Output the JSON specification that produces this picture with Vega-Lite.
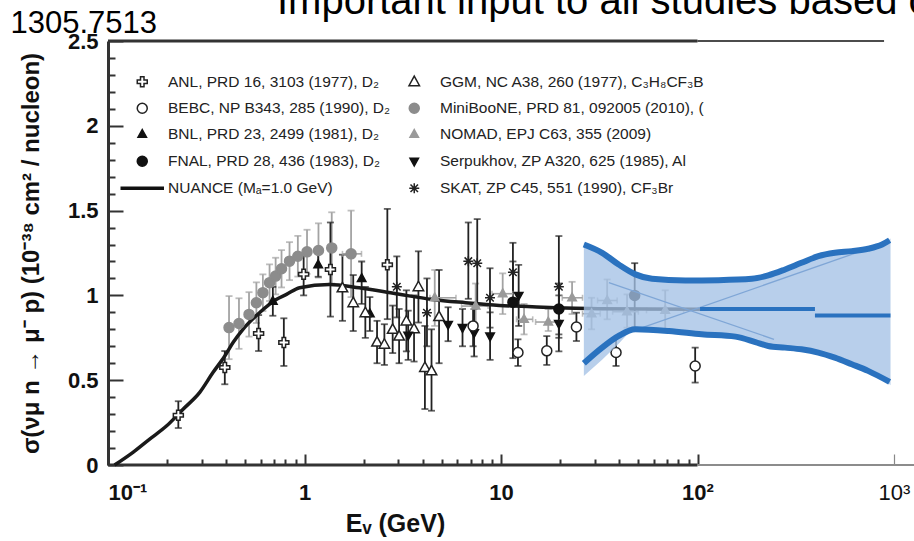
{
  "$schema": "https://vega.github.io/schema/vega-lite/v6.json",
  "width": 786,
  "height": 424,
  "autosize": {"type": "none"},
  "padding": {"left": 108, "top": 41, "right": 20, "bottom": 76},
  "background": "white",
  "config": {"view": {"stroke": null}, "font": "Liberation Sans"},
  "title": {
    "text": "Important input to all studies based on",
    "anchor": "start",
    "frame": "group",
    "dx": 169,
    "offset": -15,
    "font": "Liberation Sans",
    "fontSize": 40,
    "fontWeight": "normal",
    "color": "#000"
  },
  "resolve": {"axis": {"x": "independent", "y": "independent"}},
  "datasets": {
    "pts": [
      {"exp": "ANL", "E": 0.228, "s": 0.294, "lo": 0.218, "hi": 0.376},
      {"exp": "ANL", "E": 0.393, "s": 0.575, "lo": 0.476, "hi": 0.672},
      {"exp": "ANL", "E": 0.584, "s": 0.775, "lo": 0.672, "hi": 0.884},
      {"exp": "ANL", "E": 0.785, "s": 0.722, "lo": 0.584, "hi": 0.865},
      {"exp": "ANL", "E": 0.99, "s": 1.124, "lo": 1.0, "hi": 1.235},
      {"exp": "ANL", "E": 1.355, "s": 1.153, "lo": 0.875, "hi": 1.43},
      {"exp": "ANL", "E": 2.64, "s": 1.18, "lo": 0.86, "hi": 1.51},
      {"exp": "MiniBooNE", "E": 0.413, "s": 0.81, "lo": 0.624, "hi": 0.996},
      {"exp": "MiniBooNE", "E": 0.464, "s": 0.834, "lo": 0.685, "hi": 0.983},
      {"exp": "MiniBooNE", "E": 0.522, "s": 0.888, "lo": 0.757, "hi": 1.019},
      {"exp": "MiniBooNE", "E": 0.569, "s": 0.957, "lo": 0.837, "hi": 1.077},
      {"exp": "MiniBooNE", "E": 0.614, "s": 1.016, "lo": 0.908, "hi": 1.124},
      {"exp": "MiniBooNE", "E": 0.664, "s": 1.075, "lo": 0.967, "hi": 1.183},
      {"exp": "MiniBooNE", "E": 0.713, "s": 1.114, "lo": 1.006, "hi": 1.222},
      {"exp": "MiniBooNE", "E": 0.764, "s": 1.157, "lo": 1.047, "hi": 1.267},
      {"exp": "MiniBooNE", "E": 0.839, "s": 1.202, "lo": 1.09, "hi": 1.314},
      {"exp": "MiniBooNE", "E": 0.925, "s": 1.231, "lo": 1.111, "hi": 1.351},
      {"exp": "MiniBooNE", "E": 1.03, "s": 1.257, "lo": 1.127, "hi": 1.387},
      {"exp": "MiniBooNE", "E": 1.178, "s": 1.265, "lo": 1.105, "hi": 1.425},
      {"exp": "MiniBooNE", "E": 1.376, "s": 1.28, "lo": 1.07, "hi": 1.49},
      {"exp": "MiniBooNE", "E": 1.726, "s": 1.245, "lo": 0.99, "hi": 1.5, "xlo": 1.56, "xhi": 1.95},
      {"exp": "BNL", "E": 0.69, "s": 0.966, "lo": 0.88, "hi": 1.05},
      {"exp": "BNL", "E": 1.174, "s": 1.18, "lo": 1.11, "hi": 1.25},
      {"exp": "BNL", "E": 1.954, "s": 1.1, "lo": 0.95, "hi": 1.2},
      {"exp": "BNL", "E": 2.15, "s": 0.892, "lo": 0.79, "hi": 0.99},
      {"exp": "GGM", "E": 1.56, "s": 1.045, "lo": 0.85, "hi": 1.24},
      {"exp": "GGM", "E": 1.77, "s": 0.957, "lo": 0.79, "hi": 1.12},
      {"exp": "GGM", "E": 2.04, "s": 0.898, "lo": 0.75, "hi": 1.05},
      {"exp": "GGM", "E": 2.34, "s": 0.725, "lo": 0.6, "hi": 0.85},
      {"exp": "GGM", "E": 2.55, "s": 0.712, "lo": 0.59, "hi": 0.83},
      {"exp": "GGM", "E": 2.81, "s": 0.8, "lo": 0.66, "hi": 0.94},
      {"exp": "GGM", "E": 3.03, "s": 0.76, "lo": 0.6, "hi": 0.92},
      {"exp": "GGM", "E": 3.3, "s": 0.849, "lo": 0.67, "hi": 1.03},
      {"exp": "GGM", "E": 3.61, "s": 0.804, "lo": 0.61, "hi": 1.0},
      {"exp": "GGM", "E": 3.8, "s": 1.051, "lo": 0.84, "hi": 1.26},
      {"exp": "GGM", "E": 4.1, "s": 0.575, "lo": 0.33, "hi": 0.82},
      {"exp": "GGM", "E": 4.43, "s": 0.555, "lo": 0.32, "hi": 0.8},
      {"exp": "GGM", "E": 4.84, "s": 0.875, "lo": 0.6, "hi": 1.15},
      {"exp": "SKAT", "E": 2.95, "s": 1.051, "lo": 0.87, "hi": 1.23},
      {"exp": "SKAT", "E": 4.2, "s": 0.898, "lo": 0.7, "hi": 1.1},
      {"exp": "SKAT", "E": 6.82, "s": 1.202, "lo": 0.98, "hi": 1.43},
      {"exp": "SKAT", "E": 7.57, "s": 1.19, "lo": 0.95, "hi": 1.45},
      {"exp": "SKAT", "E": 8.79, "s": 0.986, "lo": 0.81, "hi": 1.16},
      {"exp": "SKAT", "E": 11.5, "s": 1.137, "lo": 0.97, "hi": 1.31},
      {"exp": "SKAT", "E": 19.7, "s": 1.051, "lo": 0.75, "hi": 1.35},
      {"exp": "Serpukhov", "E": 3.37, "s": 0.765, "lo": 0.62, "hi": 0.91},
      {"exp": "Serpukhov", "E": 5.38, "s": 0.829, "lo": 0.73, "hi": 0.93},
      {"exp": "Serpukhov", "E": 6.37, "s": 0.81, "lo": 0.7, "hi": 0.92},
      {"exp": "Serpukhov", "E": 7.3, "s": 0.78, "lo": 0.64, "hi": 0.92},
      {"exp": "Serpukhov", "E": 8.8, "s": 0.76, "lo": 0.62, "hi": 0.9},
      {"exp": "Serpukhov", "E": 12.3, "s": 1.0, "lo": 0.82, "hi": 1.18},
      {"exp": "Serpukhov", "E": 19.7, "s": 0.834, "lo": 0.67, "hi": 1.0},
      {"exp": "FNAL", "E": 11.5, "s": 0.96, "lo": 0.63, "hi": 1.2},
      {"exp": "FNAL", "E": 19.7, "s": 0.92, "lo": 0.77, "hi": 1.07},
      {"exp": "FNAL", "E": 47.9, "s": 1.0, "lo": 0.81, "hi": 1.19},
      {"exp": "BEBC", "E": 7.21, "s": 0.82, "lo": 0.7, "hi": 0.94},
      {"exp": "BEBC", "E": 12.2, "s": 0.663, "lo": 0.584, "hi": 0.741},
      {"exp": "BEBC", "E": 17.1, "s": 0.673, "lo": 0.59, "hi": 0.76},
      {"exp": "BEBC", "E": 24.2, "s": 0.814, "lo": 0.731, "hi": 0.898},
      {"exp": "BEBC", "E": 38.5, "s": 0.663, "lo": 0.584, "hi": 0.751},
      {"exp": "BEBC", "E": 97.3, "s": 0.584, "lo": 0.486, "hi": 0.692},
      {"exp": "NOMAD", "E": 4.6, "s": 0.986, "lo": 0.82, "hi": 1.15, "xlo": 4.35, "xhi": 5.9},
      {"exp": "NOMAD", "E": 7.43, "s": 0.937, "lo": 0.8, "hi": 1.07, "xlo": 6.3, "xhi": 8.6},
      {"exp": "NOMAD", "E": 10.2, "s": 1.01, "lo": 0.89, "hi": 1.13, "xlo": 9.0, "xhi": 11.5},
      {"exp": "NOMAD", "E": 13.1, "s": 0.859, "lo": 0.77, "hi": 0.95, "xlo": 12.0, "xhi": 14.5},
      {"exp": "NOMAD", "E": 17.4, "s": 0.843, "lo": 0.79, "hi": 0.92, "xlo": 15.0, "xhi": 20.0},
      {"exp": "NOMAD", "E": 23.0, "s": 0.986, "lo": 0.89, "hi": 1.08, "xlo": 20.5, "xhi": 26.0},
      {"exp": "NOMAD", "E": 28.9, "s": 0.892, "lo": 0.8, "hi": 0.986, "xlo": 26.0, "xhi": 32.0},
      {"exp": "NOMAD", "E": 34.7, "s": 0.97, "lo": 0.859, "hi": 1.094, "xlo": 31.0, "xhi": 39.0},
      {"exp": "NOMAD", "E": 43.8, "s": 0.904, "lo": 0.81, "hi": 1.006, "xlo": 37.0, "xhi": 50.0},
      {"exp": "NOMAD", "E": 68.5, "s": 0.912, "lo": 0.8, "hi": 1.03, "xlo": 55.0, "xhi": 85.0}
    ],
    "nuance": [
      {"E": 0.108, "s": 0.0}, {"E": 0.134, "s": 0.075}, {"E": 0.163, "s": 0.153},
      {"E": 0.199, "s": 0.231}, {"E": 0.241, "s": 0.329}, {"E": 0.293, "s": 0.428},
      {"E": 0.342, "s": 0.545}, {"E": 0.393, "s": 0.643}, {"E": 0.433, "s": 0.722},
      {"E": 0.486, "s": 0.8}, {"E": 0.59, "s": 0.898}, {"E": 0.718, "s": 0.976},
      {"E": 0.81, "s": 1.006}, {"E": 0.944, "s": 1.045}, {"E": 1.34, "s": 1.065},
      {"E": 1.9, "s": 1.045}, {"E": 2.92, "s": 1.01}, {"E": 4.47, "s": 0.976},
      {"E": 6.6, "s": 0.957}, {"E": 9.8, "s": 0.941}, {"E": 14.4, "s": 0.933},
      {"E": 21.2, "s": 0.925}, {"E": 31.3, "s": 0.922}, {"E": 103, "s": 0.918}
    ],
    "bandfill": [
      {"E": 26.4, "hi": 1.31, "lo": 0.525}, {"E": 32.7, "hi": 1.251, "lo": 0.62},
      {"E": 39.7, "hi": 1.182, "lo": 0.715}, {"E": 46.4, "hi": 1.13, "lo": 0.8},
      {"E": 58.7, "hi": 1.098, "lo": 0.795}, {"E": 71.5, "hi": 1.092, "lo": 0.79},
      {"E": 86.7, "hi": 1.088, "lo": 0.785}, {"E": 105, "hi": 1.089, "lo": 0.771},
      {"E": 128, "hi": 1.09, "lo": 0.765}, {"E": 156, "hi": 1.094, "lo": 0.757},
      {"E": 189, "hi": 1.098, "lo": 0.74}, {"E": 229, "hi": 1.118, "lo": 0.705},
      {"E": 279, "hi": 1.153, "lo": 0.692}, {"E": 338, "hi": 1.192, "lo": 0.682},
      {"E": 412, "hi": 1.231, "lo": 0.663}, {"E": 500, "hi": 1.251, "lo": 0.633},
      {"E": 610, "hi": 1.261, "lo": 0.594}, {"E": 738, "hi": 1.275, "lo": 0.555},
      {"E": 870, "hi": 1.3, "lo": 0.52}, {"E": 960, "hi": 1.335, "lo": 0.47}
    ],
    "bandedge": [
      {"edge": "upper", "E": 26.4, "s": 1.3}, {"edge": "upper", "E": 32.7, "s": 1.251},
      {"edge": "upper", "E": 39.7, "s": 1.182}, {"edge": "upper", "E": 48.3, "s": 1.124},
      {"edge": "upper", "E": 58.7, "s": 1.098}, {"edge": "upper", "E": 86.7, "s": 1.088},
      {"edge": "upper", "E": 128, "s": 1.09}, {"edge": "upper", "E": 189, "s": 1.098},
      {"edge": "upper", "E": 229, "s": 1.118}, {"edge": "upper", "E": 279, "s": 1.153},
      {"edge": "upper", "E": 338, "s": 1.192}, {"edge": "upper", "E": 412, "s": 1.231},
      {"edge": "upper", "E": 500, "s": 1.251}, {"edge": "upper", "E": 610, "s": 1.261},
      {"edge": "upper", "E": 738, "s": 1.275}, {"edge": "upper", "E": 870, "s": 1.3},
      {"edge": "upper", "E": 950, "s": 1.325},
      {"edge": "lower", "E": 26.4, "s": 0.6}, {"edge": "lower", "E": 32.7, "s": 0.692},
      {"edge": "lower", "E": 39.7, "s": 0.761}, {"edge": "lower", "E": 48.3, "s": 0.8},
      {"edge": "lower", "E": 71.5, "s": 0.79}, {"edge": "lower", "E": 105, "s": 0.771},
      {"edge": "lower", "E": 156, "s": 0.757}, {"edge": "lower", "E": 197, "s": 0.725},
      {"edge": "lower", "E": 229, "s": 0.702}, {"edge": "lower", "E": 279, "s": 0.692},
      {"edge": "lower", "E": 338, "s": 0.682}, {"edge": "lower", "E": 412, "s": 0.663},
      {"edge": "lower", "E": 500, "s": 0.633}, {"edge": "lower", "E": 610, "s": 0.594},
      {"edge": "lower", "E": 738, "s": 0.555}, {"edge": "lower", "E": 950, "s": 0.49}
    ],
    "central": [
      {"seg": "a", "E": 103, "s": 0.92}, {"seg": "a", "E": 396, "s": 0.92},
      {"seg": "b", "E": 396, "s": 0.882}, {"seg": "b", "E": 960, "s": 0.882}
    ],
    "diag": [
      {"k": "a", "E": 39.7, "s": 0.761}, {"k": "a", "E": 950, "s": 1.32},
      {"k": "b", "E": 35.4, "s": 1.075}, {"k": "b", "E": 245, "s": 0.741}
    ]
  },
  "layer": [
    {
      "data": {"values": [{"a": 0.1, "b": 100, "y": 0}, {"a": 0.1, "b": 100, "y": 2.5}]},
      "mark": {"type": "rule", "strokeWidth": 3, "color": "#333"},
      "encoding": {
        "x": {
          "field": "a", "type": "quantitative",
          "scale": {"type": "log", "domain": [0.1, 1000], "nice": false},
          "axis": {
            "orient": "bottom",
            "values": [0.1, 1, 10, 100, 1000],
            "labelExpr": "datum.value==0.1?'10⁻¹':datum.value==1?'1':datum.value==10?'10':datum.value==100?'10²':'10³'",
            "domain": false,
            "grid": false,
            "tickSize": -11,
            "tickColor": {"condition": {"test": "datum.value==1000", "value": "#888"}, "value": "#333"},
            "tickWidth": {"condition": {"test": "datum.value==1000", "value": 1.2}, "value": 2},
            "labelFont": "Liberation Sans",
            "labelFontSize": 22,
            "labelFontWeight": {"condition": {"test": "datum.value==1000", "value": "normal"}, "value": "bold"},
            "labelAlign": {"condition": {"test": "datum.value==0.1", "value": "left"}, "value": "center"},
            "labelColor": "#111",
            "labelPadding": 28,
            "labelOverlap": false,
            "labelFlush": false,
            "labelBound": false,
            "title": "Eᵥ (GeV)",
            "titleFont": "Liberation Sans",
            "titleFontSize": 25,
            "titleFontWeight": "bold",
            "titleColor": "#111",
            "titleX": 287,
            "titlePadding": 8
          }
        },
        "x2": {"field": "b"},
        "y": {
          "field": "y", "type": "quantitative",
          "scale": {"domain": [0, 2.5], "nice": false, "zero": false},
          "axis": {
            "orient": "left",
            "values": [0, 0.5, 1, 1.5, 2, 2.5],
            "format": "~g",
            "domainColor": "#333",
            "domainWidth": 3,
            "grid": false,
            "tickSize": -15,
            "tickColor": "#333",
            "tickWidth": 2,
            "labelFont": "Liberation Sans",
            "labelFontSize": 22,
            "labelFontWeight": "bold",
            "labelColor": "#111",
            "labelPadding": 25,
            "labelOverlap": false,
            "labelFlush": false,
            "labelBound": false,
            "title": "σ(νμ n → μ⁻ p) (10⁻³⁸ cm² / nucleon)",
            "titleFont": "Liberation Sans",
            "titleFontSize": 24,
            "titleFontWeight": "bold",
            "titleColor": "#111",
            "titlePadding": 24
          }
        }
      }
    },
    {
      "data": {"values": [{"a": 100, "b": 890, "y": 2.5}]},
      "mark": {"type": "rule", "strokeWidth": 1.5, "color": "#111"},
      "encoding": {
        "x": {
          "field": "a", "type": "quantitative",
          "scale": {"type": "log", "domain": [0.1, 1000], "nice": false},
          "axis": {
            "orient": "top", "domain": false, "ticks": false, "labels": false, "grid": false,
            "title": "1305.7513", "titleX": -98, "titleY": -9, "titleAlign": "left", "titleAnchor": null,
            "titleBaseline": "alphabetic", "titleFont": "Liberation Sans", "titleFontSize": 31,
            "titleFontWeight": "normal", "titleColor": "#000", "titleAngle": 0
          }
        },
        "x2": {"field": "b"},
        "y": {"field": "y", "type": "quantitative", "scale": {"domain": [0, 2.5], "nice": false, "zero": false}, "axis": null}
      }
    },
    {
      "data": {"values": [{"a": 100, "b": 1300, "y": 0}]},
      "mark": {"type": "rule", "strokeWidth": 2, "color": "#8c8c8c"},
      "encoding": {
        "x": {
          "field": "a", "type": "quantitative",
          "scale": {"type": "log", "domain": [0.1, 1000], "nice": false},
          "axis": {
            "orient": "bottom",
            "values": [0.2, 0.3, 0.4, 0.5, 0.6, 0.7, 0.8, 0.9, 2, 3, 4, 5, 6, 7, 8, 9, 20, 30, 40, 50, 60, 70, 80, 90],
            "labels": false, "domain": false, "grid": false, "title": null,
            "tickSize": -6, "tickColor": "#333", "tickWidth": 2
          }
        },
        "x2": {"field": "b"},
        "y": {
          "field": "y", "type": "quantitative",
          "scale": {"domain": [0, 2.5], "nice": false, "zero": false},
          "axis": {
            "orient": "left",
            "values": [0.1, 0.2, 0.3, 0.4, 0.6, 0.7, 0.8, 0.9, 1.1, 1.2, 1.3, 1.4, 1.6, 1.7, 1.8, 1.9, 2.1, 2.2, 2.3, 2.4],
            "labels": false, "domain": false, "grid": false, "title": null,
            "tickSize": -7, "tickColor": "#333", "tickWidth": 2
          }
        }
      }
    },
    {
      "data": {"name": "pts"},
      "transform": [{"filter": "datum.exp=='MiniBooNE'||datum.exp=='NOMAD'"}],
      "mark": {"type": "errorbar", "ticks": {"size": 7}, "thickness": 1.8, "color": "#a3a3a3"},
      "encoding": {
        "x": {"field": "E", "type": "quantitative", "scale": {"type": "log", "domain": [0.1, 1000], "nice": false}, "axis": null},
        "y": {"field": "lo", "type": "quantitative", "scale": {"domain": [0, 2.5], "nice": false, "zero": false}, "axis": null},
        "y2": {"field": "hi"}
      }
    },
    {
      "data": {"name": "pts"},
      "transform": [{"filter": "datum.exp!='MiniBooNE'&&datum.exp!='NOMAD'"}],
      "mark": {"type": "errorbar", "ticks": {"size": 7}, "thickness": 1.8, "color": "#222"},
      "encoding": {
        "x": {"field": "E", "type": "quantitative", "scale": {"type": "log", "domain": [0.1, 1000], "nice": false}, "axis": null},
        "y": {"field": "lo", "type": "quantitative", "scale": {"domain": [0, 2.5], "nice": false, "zero": false}, "axis": null},
        "y2": {"field": "hi"}
      }
    },
    {
      "data": {"name": "pts"},
      "transform": [{"filter": "isValid(datum.xlo)"}],
      "mark": {"type": "errorbar", "ticks": {"size": 6}, "thickness": 1.6, "color": "#a3a3a3"},
      "encoding": {
        "x": {"field": "xlo", "type": "quantitative", "scale": {"type": "log", "domain": [0.1, 1000], "nice": false}, "axis": null},
        "x2": {"field": "xhi"},
        "y": {"field": "s", "type": "quantitative", "scale": {"domain": [0, 2.5], "nice": false, "zero": false}, "axis": null}
      }
    },
    {
      "data": {"name": "nuance"},
      "mark": {"type": "line", "interpolate": "monotone", "strokeWidth": 3.5, "color": "#1a1a1a"},
      "encoding": {
        "x": {"field": "E", "type": "quantitative", "scale": {"type": "log", "domain": [0.1, 1000], "nice": false}, "axis": null},
        "y": {"field": "s", "type": "quantitative", "scale": {"domain": [0, 2.5], "nice": false, "zero": false}, "axis": null}
      }
    },
    {
      "data": {"name": "pts"},
      "mark": {"type": "point", "filled": true, "size": 100, "strokeWidth": 1.5, "opacity": 1},
      "encoding": {
        "x": {"field": "E", "type": "quantitative", "scale": {"type": "log", "domain": [0.1, 1000], "nice": false}, "axis": null},
        "y": {"field": "s", "type": "quantitative", "scale": {"domain": [0, 2.5], "nice": false, "zero": false}, "axis": null},
        "shape": {
          "field": "exp", "type": "nominal",
          "scale": {
            "domain": ["ANL", "BEBC", "BNL", "FNAL", "NUANCE", "GGM", "MiniBooNE", "NOMAD", "Serpukhov", "SKAT"],
            "range": [
              "M -0.35,-1 L 0.35,-1 L 0.35,-0.35 L 1,-0.35 L 1,0.35 L 0.35,0.35 L 0.35,1 L -0.35,1 L -0.35,0.35 L -1,0.35 L -1,-0.35 L -0.35,-0.35 Z",
              "circle",
              "M 0,-0.95 L 0.85,0.6 L -0.85,0.6 Z",
              "circle",
              "M -4.2,-0.22 L 4.2,-0.22 L 4.2,0.22 L -4.2,0.22 Z",
              "M 0,-1.1 L 1.05,0.8 L -1.05,0.8 Z",
              "circle",
              "M 0,-0.95 L 0.85,0.6 L -0.85,0.6 Z",
              "M 0,0.95 L 0.85,-0.6 L -0.85,-0.6 Z",
              "M -1,0 L 1,0 M 0,-1 L 0,1 M -0.75,-0.75 L 0.75,0.75 M -0.75,0.75 L 0.75,-0.75"
            ]
          },
          "legend": {
            "title": null, "orient": "none", "legendX": 26.5, "legendY": 32.5, "columns": 2, "direction": "vertical",
            "symbolSize": 100, "symbolStrokeWidth": 1.5, "labelFont": "Liberation Sans", "labelFontSize": 15.5,
            "labelColor": "#222", "labelOffset": 18, "rowPadding": 9, "columnPadding": 15, "padding": 0, "labelLimit": 400,
            "labelExpr": "datum.value=='ANL'?'ANL, PRD 16, 3103 (1977), D₂':datum.value=='BEBC'?'BEBC, NP B343, 285 (1990), D₂':datum.value=='BNL'?'BNL, PRD 23, 2499 (1981), D₂':datum.value=='FNAL'?'FNAL, PRD 28, 436 (1983), D₂':datum.value=='NUANCE'?'NUANCE (Mₐ=1.0 GeV)':datum.value=='GGM'?'GGM, NC A38, 260 (1977), C₃H₈CF₃B':datum.value=='MiniBooNE'?'MiniBooNE, PRD 81, 092005 (2010), (':datum.value=='NOMAD'?'NOMAD, EPJ C63, 355 (2009)':datum.value=='Serpukhov'?'Serpukhov, ZP A320, 625 (1985), Al':'SKAT, ZP C45, 551 (1990), CF₃Br'"
          }
        },
        "fill": {
          "field": "exp", "type": "nominal",
          "scale": {
            "domain": ["ANL", "BEBC", "BNL", "FNAL", "NUANCE", "GGM", "MiniBooNE", "NOMAD", "Serpukhov", "SKAT"],
            "range": ["white", "white", "#111", "#111", "#111", "white", "#8c8c8c", "#9a9a9a", "#111", "transparent"]
          }
        },
        "stroke": {
          "field": "exp", "type": "nominal",
          "scale": {
            "domain": ["ANL", "BEBC", "BNL", "FNAL", "NUANCE", "GGM", "MiniBooNE", "NOMAD", "Serpukhov", "SKAT"],
            "range": ["#222", "#222", "#111", "#111", "#111", "#222", "#8c8c8c", "#9a9a9a", "#111", "#222"]
          }
        }
      }
    },
    {
      "data": {"name": "bandfill"},
      "mark": {"type": "area", "color": "#a4c2e6", "opacity": 0.78},
      "encoding": {
        "x": {"field": "E", "type": "quantitative", "scale": {"type": "log", "domain": [0.1, 1000], "nice": false}, "axis": null},
        "y": {"field": "hi", "type": "quantitative", "scale": {"domain": [0, 2.5], "nice": false, "zero": false}, "axis": null},
        "y2": {"field": "lo"}
      }
    },
    {
      "data": {"name": "diag"},
      "mark": {"type": "line", "color": "#7fa6d6", "strokeWidth": 1.3},
      "encoding": {
        "x": {"field": "E", "type": "quantitative", "scale": {"type": "log", "domain": [0.1, 1000], "nice": false}, "axis": null},
        "y": {"field": "s", "type": "quantitative", "scale": {"domain": [0, 2.5], "nice": false, "zero": false}, "axis": null},
        "detail": {"field": "k"}
      }
    },
    {
      "data": {"name": "bandedge"},
      "mark": {"type": "line", "interpolate": "monotone", "color": "#2a72bf", "strokeWidth": 6},
      "encoding": {
        "x": {"field": "E", "type": "quantitative", "scale": {"type": "log", "domain": [0.1, 1000], "nice": false}, "axis": null},
        "y": {"field": "s", "type": "quantitative", "scale": {"domain": [0, 2.5], "nice": false, "zero": false}, "axis": null},
        "detail": {"field": "edge"}
      }
    },
    {
      "data": {"name": "central"},
      "mark": {"type": "line", "color": "#2a72bf", "strokeWidth": 4},
      "encoding": {
        "x": {"field": "E", "type": "quantitative", "scale": {"type": "log", "domain": [0.1, 1000], "nice": false}, "axis": null},
        "y": {"field": "s", "type": "quantitative", "scale": {"domain": [0, 2.5], "nice": false, "zero": false}, "axis": null},
        "detail": {"field": "seg"}
      }
    }
  ]
}
